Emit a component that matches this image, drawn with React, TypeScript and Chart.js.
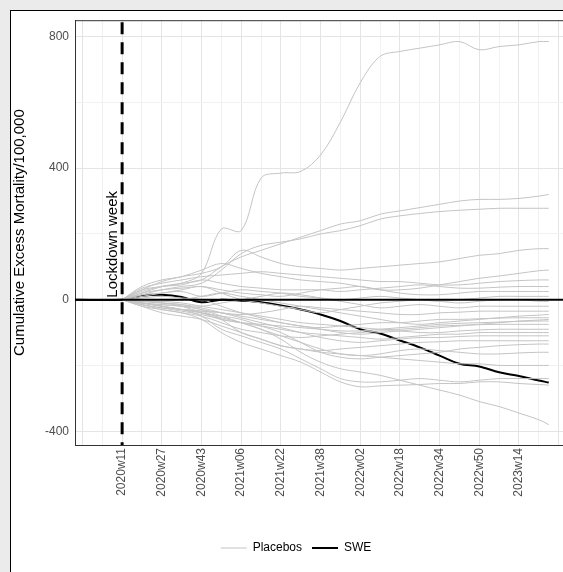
import { useEffect, useRef } from 'react'
import { Chart, registerables } from 'chart.js'

Chart.register(...registerables)

// week offsets from lockdown week (2020w11 = 0)
const WEEKS = [0, 8, 16, 24, 32, 40, 48, 56, 64, 72, 80, 88, 96, 104, 112, 120, 128, 136, 144, 152, 160, 168, 172]
const PRE_WEEK = -19

const SWE = [0, 12, 15, 8, -8, 0, -3, -8, -18, -30, -45, -65, -90, -103, -124, -145, -170, -195, -203, -221, -232, -246, -252]

const PLACEBOS: number[][] = [
    [0, 30, 40, 50, 80, 215, 210, 370, 385, 390, 440, 540, 660, 740, 755, 765, 775, 785, 760, 770, 775, 785, 785],
    [0, 20, 40, 50, 60, 100, 130, 150, 170, 190, 210, 230, 240, 260, 270, 280, 290, 300, 305, 305, 308, 315, 320],
    [0, 15, 30, 40, 50, 90, 140, 165, 175, 185, 200, 210, 225, 245, 255, 262, 268, 272, 275, 278, 278, 278, 278],
    [0, 30, 55, 70, 80, 100, 150, 130, 110, 100, 95, 90, 95, 100, 105, 110, 115, 125, 135, 140, 150, 155, 155],
    [0, 40, 60, 70, 90, 110, 95, 80, 70, 60, 55, 50, 40, 30, 30, 35, 45, 55, 65, 72, 80, 88, 90],
    [0, 35, 50, 60, 70, 75, 80, 85, 80, 75, 70, 65, 60, 55, 55, 50, 45, 45, 50, 55, 58, 60, 60],
    [0, 25, 40, 45, 60, 50, 40, 35, 30, 30, 30, 25, 30, 35, 40, 45, 40, 35, 35, 38, 40, 40, 40],
    [0, 20, 30, 35, 40, 30, 20, 15, 10, 20, 30, 35, 40, 30, 20, 15, 15, 20, 25, 25, 25, 25, 25],
    [0, 15, 20, 25, 10, 20, 30, 25, 20, 10, 5, 0, 5, 10, 5, 0, -5, 0, 5, 10, 10, 10, 10],
    [0, 10, 20, 30, 40, 20, 0, -10, -20, -30, -40, -30, -20, -10, -5, 0, -5, -10, -5, 0, 0, -5, -5],
    [0, -5, -10, -15, -20, -10, 0, 10, 20, 15, 5, -5, -15, -25, -20, -15, -20, -25, -20, -20, -20, -20, -20],
    [0, -10, -15, -20, -30, -40, -45, -40, -30, -20, -25, -30, -35, -40, -45, -45, -40, -38, -35, -35, -35, -35, -35],
    [0, -5, -5, 0, 10, 20, 10, 0, -10, -20, -30, -40, -50, -60, -70, -75, -70, -65, -60, -55, -50, -47, -45],
    [0, -10, -20, -30, -35, -40, -50, -60, -70, -80, -85, -80, -75, -70, -70, -65, -60, -60, -58, -56, -55, -55, -55],
    [0, 5, 10, 5, 0, -20, -40, -55, -70, -80, -90, -100, -105, -100, -95, -90, -85, -80, -75, -70, -65, -62, -60],
    [0, -15, -25, -35, -45, -60, -70, -75, -80, -85, -90, -95, -95, -90, -85, -80, -75, -72, -70, -68, -66, -65, -65],
    [0, 0, -5, -10, -20, -30, -40, -50, -60, -70, -75, -80, -85, -90, -90, -85, -80, -78, -76, -75, -75, -75, -75],
    [0, -20, -30, -40, -50, -70, -90, -100, -110, -115, -110, -105, -100, -95, -95, -100, -100, -95, -92, -90, -90, -90, -90],
    [0, -5, -10, -20, -40, -60, -70, -80, -90, -100, -105, -110, -115, -120, -115, -110, -105, -105, -100, -100, -100, -100, -100],
    [0, -10, -15, -20, -25, -40, -55, -70, -85, -100, -115, -125, -130, -125, -120, -115, -115, -112, -110, -110, -110, -110, -110],
    [0, -15, -25, -30, -35, -60, -100, -120, -140, -150, -155, -150, -145, -140, -135, -130, -128, -125, -125, -125, -125, -125, -125],
    [0, -10, -20, -30, -40, -50, -60, -80, -100, -130, -160, -175, -180, -175, -170, -165, -160, -150, -145, -140, -137, -135, -135],
    [0, -5, -10, -15, -30, -50, -70, -90, -110, -130, -150, -165, -170, -165, -155, -150, -155, -160, -165, -165, -162, -160, -160],
    [0, -20, -40, -50, -60, -80, -100, -120, -140, -150, -160, -165, -170, -175, -180, -185, -190, -195, -195, -200, -200, -200, -200],
    [0, -10, -20, -30, -50, -90, -110, -130, -150, -180, -210, -240, -250, -250, -245, -240, -245, -250, -245, -240, -240, -240, -240],
    [0, -15, -30, -40, -60, -100, -130, -150, -170, -190, -220, -250, -265, -262, -260, -258, -255, -255, -250, -250, -255, -258, -260],
    [0, -10, -20, -30, -40, -55, -70, -90, -120, -160, -190, -210, -220, -230, -245, -260, -275, -290, -310, -325, -345, -365, -380],
]

const TICK_LABELS = ['2020w11', '2020w27', '2020w43', '2021w06', '2021w22', '2021w38', '2022w02', '2022w18', '2022w34', '2022w50', '2023w14']
const Y_LABELS = [-400, 0, 400, 800]

const FONT = 'Arial, "Liberation Sans", sans-serif'
const X_MAX = 185

const refLines = {
    id: 'refLines',
    afterDatasetsDraw(chart: Chart) {
        const { ctx, chartArea: a, scales } = chart
        const x = scales.x.getPixelForValue(0)
        const y0 = scales.y.getPixelForValue(0)
        ctx.save()
        ctx.beginPath()
        ctx.rect(a.left, a.top, a.right - a.left, a.bottom - a.top)
        ctx.clip()
        ctx.strokeStyle = '#000'
        ctx.lineWidth = 2
        ctx.beginPath()
        ctx.moveTo(a.left, y0)
        ctx.lineTo(a.right, y0)
        ctx.stroke()
        ctx.lineWidth = 3
        ctx.setLineDash([12, 8])
        ctx.beginPath()
        ctx.moveTo(x, a.top + 2)
        ctx.lineTo(x, a.bottom)
        ctx.stroke()
        ctx.setLineDash([])
        ctx.translate(x - 9, y0 - 2)
        ctx.rotate(-Math.PI / 2)
        ctx.fillStyle = '#000'
        ctx.font = `15px ${FONT}`
        ctx.textBaseline = 'middle'
        ctx.fillText('Lockdown week', 0, 0)
        ctx.restore()
    },
}

export default function App() {
    const canvasRef = useRef<HTMLCanvasElement>(null)

    useEffect(() => {
        document.body.style.margin = '0'
        if (!canvasRef.current) return
        const placeboSets = PLACEBOS.map((vals, i) => ({
            label: 'Placebos',
            data: vals.map((v, j) => ({ x: WEEKS[j], y: v })),
            borderColor: '#c4c4c4',
            borderWidth: 1,
            pointRadius: 0,
            tension: 0.35,
            hideLegend: i > 0,
        }))
        const chart = new Chart(canvasRef.current, {
            type: 'line',
            data: {
                datasets: [
                    ...placeboSets,
                    {
                        label: 'SWE',
                        data: [{ x: PRE_WEEK, y: 0 }, ...SWE.map((v, j) => ({ x: WEEKS[j], y: v }))],
                        borderColor: '#000',
                        borderWidth: 2,
                        pointRadius: 0,
                        tension: 0.35,
                    },
                ] as any,
            },
            options: {
                animation: false,
                responsive: false,
                layout: { padding: { bottom: 8, right: 0 } },
                plugins: {
                    tooltip: { enabled: false },
                    legend: {
                        position: 'bottom',
                        labels: {
                            usePointStyle: true,
                            pointStyle: 'line',
                            pointStyleWidth: 26,
                            color: '#000',
                            font: { family: FONT, size: 12 },
                            filter: (item: any, data: any) => !data.datasets[item.datasetIndex].hideLegend,
                        },
                    },
                },
                scales: {
                    x: {
                        type: 'linear',
                        min: PRE_WEEK,
                        max: X_MAX,
                        afterFit: (s: any) => { s.height = 87 },
                        afterBuildTicks: (s: any) => {
                            const t = []
                            for (let v = -16; v <= 176; v += 8) t.push({ value: v })
                            s.ticks = t.filter(k => k.value >= PRE_WEEK)
                        },
                        ticks: {
                            autoSkip: false,
                            minRotation: 90,
                            maxRotation: 90,
                            color: '#4d4d4d',
                            font: { family: FONT, size: 12 },
                            callback: (v: any) => (v % 16 === 0 && v >= 0 ? TICK_LABELS[v / 16] ?? '' : ''),
                        },
                        grid: {
                            color: (c: any) => (c.tick && c.tick.value % 16 === 0 ? '#e4e4e4' : '#f1f1f1'),
                            drawTicks: false,
                        },
                        border: { color: '#333', width: 1 },
                    },
                    y: {
                        min: -442,
                        max: 850,
                        afterFit: (s: any) => { s.width = 64 },
                        afterBuildTicks: (s: any) => {
                            s.ticks = [-400, -200, 0, 200, 400, 600, 800].map(v => ({ value: v }))
                        },
                        ticks: {
                            color: '#4d4d4d',
                            font: { family: FONT, size: 12 },
                            padding: 6,
                            callback: (v: any) => (Y_LABELS.includes(v) ? String(v) : ''),
                        },
                        grid: {
                            color: (c: any) => (c.tick && c.tick.value % 400 === 0 ? '#e4e4e4' : '#f1f1f1'),
                            drawTicks: false,
                        },
                        border: { color: '#333', width: 1 },
                        title: {
                            display: true,
                            text: 'Cumulative Excess Mortality/100,000',
                            color: '#000',
                            font: { family: FONT, size: 15 },
                            padding: { top: 0, bottom: 0 },
                        },
                    },
                },
            },
            plugins: [refLines, {
                id: 'topBorder',
                afterDraw(c: Chart) {
                    const { ctx, chartArea: a } = c
                    ctx.save()
                    ctx.strokeStyle = '#333'
                    ctx.lineWidth = 1
                    ctx.beginPath()
                    ctx.moveTo(a.left, a.top + 0.5)
                    ctx.lineTo(a.right, a.top + 0.5)
                    ctx.stroke()
                    ctx.restore()
                },
            }],
        })
        return () => { chart.destroy() }
    }, [])

    return (
        <div style={{ width: 563, height: 572, background: '#ebebeb', position: 'relative', overflow: 'hidden' }}>
            <div style={{ position: 'absolute', left: 10, top: 10, width: 600, height: 600, background: '#fff', border: '1px solid #000', overflow: 'hidden' }}>
                <canvas ref={canvasRef} width={570} height={565} style={{ display: 'block', marginTop: -4 }} />
            </div>
        </div>
    )
}
